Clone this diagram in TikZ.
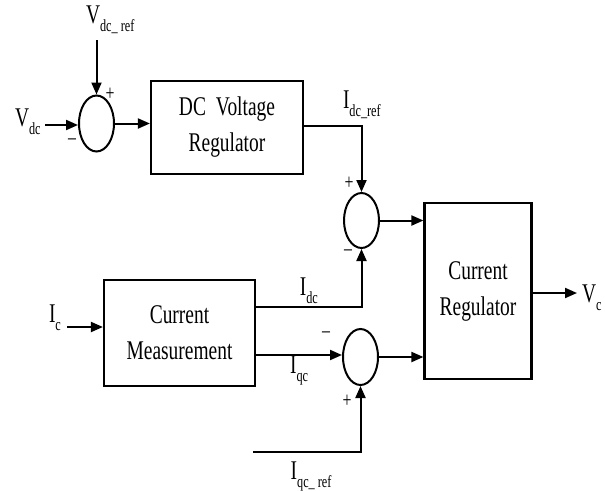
\documentclass[tikz,border=0pt]{standalone}
\usepackage{fontspec}
\setmainfont{Liberation Serif}[FakeStretch=0.72]
\usetikzlibrary{shapes.geometric, arrows.meta, positioning}

\newcommand{\lowtxt}[1]{\raisebox{-8pt}{\fontsize{17}{17}\selectfont #1}}

\begin{document}
\begin{tikzpicture}[
        x=1pt, y=-1pt,
        >={Triangle[length=12pt, width=10pt]},
        line width=2pt,
        font=\fontsize{27}{36}\selectfont,
        box/.style={draw, rectangle, line width=2.2pt, align=center, fill=white},
        sumnode/.style={draw, ellipse, line width=2pt, minimum width=35pt, minimum height=56pt, inner sep=0pt},
        sig/.style={inner sep=0pt, font=\fontsize{22}{22}\selectfont},
        lbl/.style={inner sep=2pt},
    ]
    \useasboundingbox (0,0) rectangle (605,490);

    % Nodes
    \node[sumnode] (sum1) at (96.5,123.5) {};
    \node[box, minimum width=152pt, minimum height=93pt] (dcreg) at (227,127.5) {DC\hspace{10pt}Voltage\\Regulator};
    \node[sumnode, minimum height=55pt] (sum2) at (361.5,220.5) {};
    \node[box, minimum width=151pt, minimum height=106pt] (cmeas) at (179.5,333) {Current\\Measurement};
    \node[sumnode] (sum3) at (360.5,357) {};
    \node[box, minimum width=107pt, minimum height=176pt] (creg) at (478,291) {Current\\Regulator};

    % Signals
    \node[lbl, anchor=base west] (vref) at (83,23) {V\lowtxt{dc\_ ref}};
    \node[lbl, anchor=base west] (vdc) at (12,126) {V\lowtxt{dc}};
    \node[lbl, anchor=base west] (ic) at (46,322) {I\lowtxt{c}};
    \node[lbl, anchor=base west] (vc) at (579,302) {V\lowtxt{c}};
    \node[lbl, anchor=base west] (idcref) at (340,108) {I\lowtxt{dc\_ref}};
    \coordinate (vreftop) at (96.5,40);
    \coordinate (vdcin) at (45,125);
    \coordinate (icin) at (67,327);
    \coordinate (vcout) at (577,293);
    \coordinate (qref) at (253,452);

    % Signs
    \node[sig] at (110,94) {+};
    \node[sig] at (72,142) {\textendash};
    \node[sig] at (349,183) {+};
    \node[sig] at (348,253) {\textendash};
    \node[sig] at (326,335) {\textendash};
    \node[sig] at (347,401) {+};

    % Edges
    \draw[->] (vreftop) -- (sum1.north);
    \draw[->] (vdcin) -- (vdcin -| sum1.west);
    \draw[->] (sum1.east) -- (sum1.east -| dcreg.west);
    \draw[->] ([yshift=2pt]dcreg.east) -| (sum2.north);

    \draw[->] (icin) -- (icin -| cmeas.west);
    \draw[->] ([yshift=26pt]cmeas.east) -| node[pos=0.25, above, lbl] {I\lowtxt{dc}} (sum2.south);
    \draw[->] (cmeas.east |- 0,355) -- node[below=-2pt, lbl] {I\lowtxt{qc}} (sum3.west |- 0,355);
    \draw[->] (qref) -| node[pos=0.27, below=7pt, lbl] {I\lowtxt{qc\_ ref}} (sum3.south);

    \draw[->] (sum2.east) -- (sum2.east -| creg.west);
    \draw[->] (sum3.east) -- (sum3.east -| creg.west);
    \draw[->] (vcout -| creg.east) -- (vcout);

\end{tikzpicture}
\end{document}
